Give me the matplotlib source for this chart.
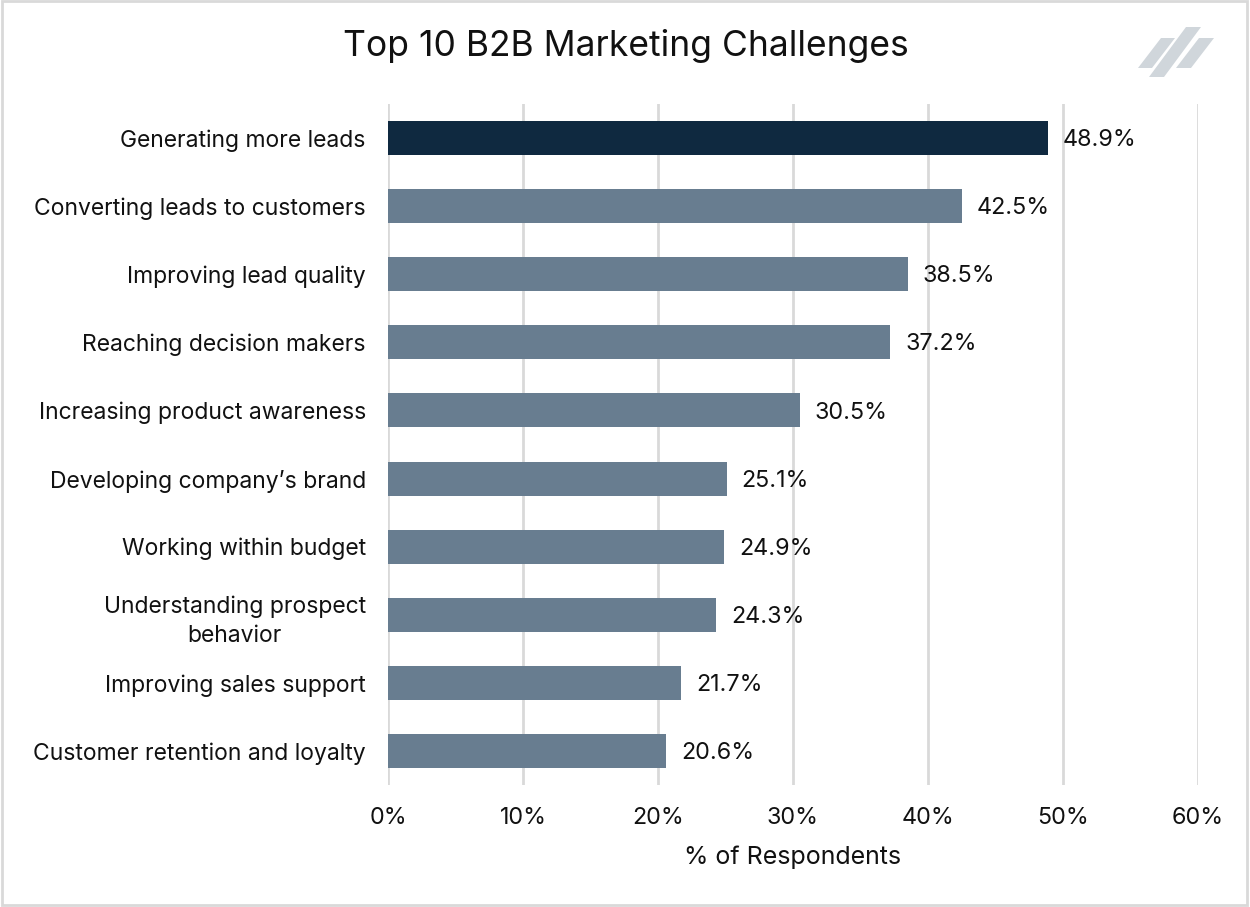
import matplotlib.pyplot as plt
from matplotlib.patches import Polygon, Rectangle

# Data
challenges = ['Generating more leads', 'Converting leads to customers', 'Improving lead quality',
              'Reaching decision makers', 'Increasing product awareness', "Developing company\u2019s brand",
              'Working within budget', 'Understanding prospect\nbehavior', 'Improving sales support',
              'Customer retention and loyalty']
pct = [48.9, 42.5, 38.5, 37.2, 30.5, 25.1, 24.9, 24.3, 21.7, 20.6]
xticks = [0, 10, 20, 30, 40, 50, 60]

# Style
dark = '#0f2940'
slate = '#687d90'
grid_col = '#d9d9d9'
txt = '#111111'
plt.rcParams['font.family'] = ['Inter', 'DejaVu Sans']

fig = plt.figure(figsize=(12.5, 9.07), dpi=100)
ax = fig.add_axes([0.3104, 0.1345, 0.648, 0.7508])

ypos = list(range(len(challenges)))
colors = [dark] + [slate] * (len(challenges) - 1)
ax.barh(ypos, pct, height=0.5, color=colors, zorder=3)
for y, v in zip(ypos, pct):
    ax.text(v + 1.1, y + 0.03, f'{v:.1f}%', va='center', ha='left', fontsize=16.8, color=txt)

ax.set_ylim(len(challenges) - 0.5, -0.5)
ax.set_xlim(0, 60)
ax.set_yticks(ypos)
ax.set_yticklabels(challenges, fontsize=16.5, color=txt, ha='right',
                   multialignment='center', linespacing=1.45)
ax.set_xticks(xticks)
ax.set_xticklabels([f'{t}%' for t in xticks], fontsize=16.8, color=txt)
ax.tick_params(axis='both', length=0)
ax.tick_params(axis='y', pad=16)
ax.tick_params(axis='x', pad=16)
ax.grid(axis='x', color=grid_col, linewidth=2, zorder=0)
for s in ax.spines.values():
    s.set_visible(False)
ax.set_xlabel('% of Respondents', fontsize=18, color=txt, labelpad=12)

fig.suptitle('Top 10 B2B Marketing Challenges', fontsize=25.5, x=0.501, y=0.968, va='top', color=txt)

# Decoration layer in pixel coordinates: border and logo
deco = fig.add_axes([0, 0, 1, 1], zorder=-1)
deco.set_xlim(0, 1250)
deco.set_ylim(907, 0)
deco.axis('off')
deco.add_patch(Rectangle((2, 1), 1245, 904, fill=False, edgecolor='#d9d9d9', linewidth=2))
logo_col = '#d0d6db'
stripes = [
    [(1161, 38), (1175, 38), (1152, 68), (1138, 68)],
    [(1186, 27), (1201, 27), (1164, 77), (1149, 77)],
    [(1199, 38), (1214, 38), (1191, 68), (1176, 68)],
]
for pts in stripes:
    deco.add_patch(Polygon(pts, closed=True, color=logo_col, linewidth=0))

fig.savefig('out.png', dpi=100)
